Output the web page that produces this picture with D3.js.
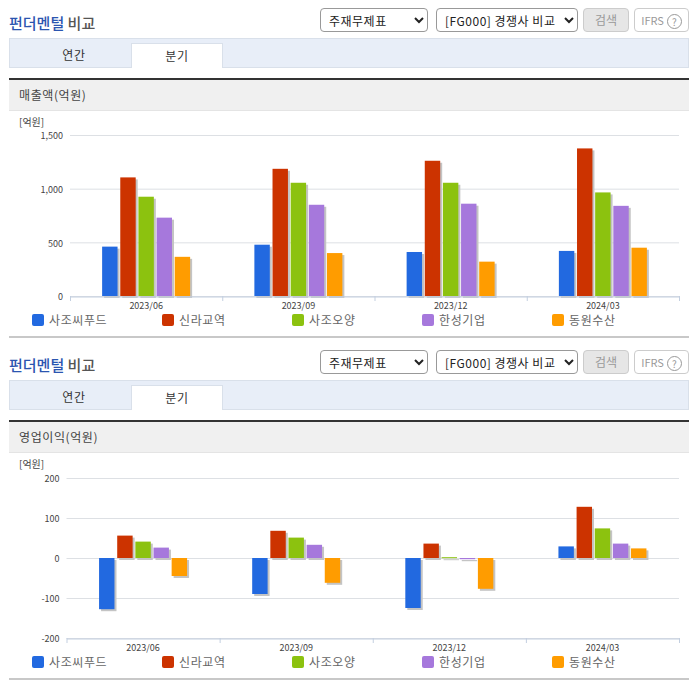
<!DOCTYPE html>
<html>
<head>
<meta charset="utf-8">
<script src="https://cdn.jsdelivr.net/npm/d3@7"></script>
<style>
  html, body { margin: 0; padding: 0; background: #fff; overflow: hidden; }
  body { font-family: "Noto Sans CJK KR", "Noto Sans", sans-serif; }
  #page { position: relative; width: 696px; height: 684px; }
  .panel { position: absolute; left: 0; width: 696px; height: 342px; }
  .panel > * { position: absolute; box-sizing: border-box; }
  .title { left: 9px; top: 12px; font-size: 15px; font-weight: 500; line-height: 22px; color: #555; }
  .title span { color: #2b55b0; }
  select { top: 8px; height: 24px; font: 12px "Noto Sans CJK KR", sans-serif; letter-spacing: .5px; color: #222; background: #fff;
           border: 1px solid #999; border-radius: 4px; padding: 0 0 0 4px; }
  .btn { top: 8px; height: 24px; border-radius: 4px; font-size: 12px; line-height: 22px; text-align: center; color: #999; border: 1px solid #ccc; }
  .help { display: inline-block; width: 13px; height: 13px; margin-left: 3px; border: 1px solid #999; border-radius: 50%;
          font-size: 10px; line-height: 13px; vertical-align: -1px; }
  .tabs { left: 9px; top: 38px; width: 680px; height: 30px; background: #e8eef8; border: 1px solid #d9e0ea; }
  .tab { top: 43px; height: 25px; width: 92px; font-size: 12px; letter-spacing: .6px; line-height: 24px; text-align: center; color: #333; }
  .tab.on { background: #fff; border: 1px solid #d9e0ea; border-bottom: 0; }
  .head { left: 9px; top: 78px; width: 680px; height: 33px; background: #f0f0f0; border-top: 2px solid #333; border-bottom: 1px solid #e4e4e4;
          font-size: 12px; line-height: 30px; padding-left: 10px; color: #444; letter-spacing: .6px; }
  .foot { left: 9px; top: 336px; width: 680px; height: 2px; background: #c8c8c8; }
  svg { left: 0; top: 0; }
  svg text { font-family: "Noto Sans CJK KR", "Noto Sans", sans-serif; }
</style>
</head>
<body>
<div id="page"></div>
<script>
const periods = ["2023/06", "2023/09", "2023/12", "2024/03"];
const companies = ["사조씨푸드", "신라교역", "사조오양", "한성기업", "동원수산"];
const colors = ["#2269e0", "#cc3300", "#8cc20f", "#a678dc", "#ff9c00"];

const salesValues = [
  [460, 1105, 925, 730, 365],
  [478, 1185, 1055, 850, 400],
  [410, 1260, 1055, 860, 320],
  [420, 1375, 965, 840, 450]
];
const profitValues = [
  [-128, 56, 41, 26, -45],
  [-90, 68, 51, 33, -62],
  [-125, 36, 2, -3, -77],
  [29, 128, 74, 36, 24]
];
const salesTicks = [0, 500, 1000, 1500];
const profitTicks = [-200, -100, 0, 100, 200];

const tickFormat = d => d3.format(",")(d).replace("−", "-");

function createPanel(top, label, values, ticks, opts) {
  const panel = d3.select("#page").append("div").attr("class", "panel").style("top", top + "px");

  const title = panel.append("div").attr("class", "title");
  title.append("span").text("펀더멘털");
  title.append("b").style("font-weight", 500).text(" 비교");

  panel.append("select").style("left", "320px").style("width", "108px")
    .append("option").text("주재무제표");
  panel.append("select").style("left", "436px").style("width", "142px")
    .append("option").text("[FG000] 경쟁사 비교");
  panel.append("div").attr("class", "btn").style("left", "583px").style("width", "46px")
    .style("background", "#e6e6e6").text("검색");
  const ifrs = panel.append("div").attr("class", "btn").style("left", "634px").style("width", "55px")
    .style("font-size", "11px").text("IFRS");
  ifrs.append("span").attr("class", "help").text("?");

  panel.append("div").attr("class", "tabs");
  panel.append("div").attr("class", "tab").style("left", "28px").text("연간");
  panel.append("div").attr("class", "tab on").style("left", "131px").text("분기");
  panel.append("div").attr("class", "head").text(label);
  panel.append("div").attr("class", "foot");

  const svg = panel.append("svg").attr("width", 696).attr("height", 342);

  svg.append("text").attr("x", 19).attr("y", 126).attr("font-size", 10).attr("fill", "#444").text("[억원]");

  const x = d3.scaleBand().domain(periods).range([opts.left, 679]);
  const y = d3.scaleLinear().domain(d3.extent(ticks)).range([opts.bottom, opts.top]);
  const inner = d3.scaleBand().domain(companies).range([-44, 44]).paddingInner(0.15);

  // gridlines
  svg.append("g").selectAll("line").data(ticks).join("line")
    .attr("x1", opts.left).attr("x2", 679)
    .attr("y1", d => y(d) + .5).attr("y2", d => y(d) + .5)
    .attr("stroke", "#dde0e4");

  const yAxis = d3.axisLeft(y).tickValues(ticks).tickSize(0).tickPadding(7).tickFormat(tickFormat);
  svg.append("g").attr("transform", `translate(${opts.left},1)`).call(yAxis)
    .call(g => g.select(".domain").remove())
    .call(g => g.selectAll("text").attr("font-size", 9).attr("fill", "#444"));

  // shadow first, then the bars
  const groups = svg.append("g").selectAll("g").data(values).join("g")
    .attr("transform", (d, i) => `translate(${x(periods[i]) + x.bandwidth() / 2},0)`);
  const barTop = v => y(Math.max(v, 0));
  const barH = v => Math.max(Math.abs(y(v) - y(0)), 1);
  groups.selectAll("rect.shadow").data(d => d).join("rect").attr("class", "shadow")
    .attr("x", (d, i) => inner(companies[i]) + 2).attr("y", d => barTop(d) + 2)
    .attr("width", inner.bandwidth()).attr("height", barH)
    .attr("fill", "#c4c4c4");
  groups.selectAll("rect.bar").data(d => d).join("rect").attr("class", "bar")
    .attr("x", (d, i) => inner(companies[i])).attr("y", barTop)
    .attr("width", inner.bandwidth()).attr("height", barH)
    .attr("fill", (d, i) => colors[i]);

  const xAxis = d3.axisBottom(x).tickSize(0).tickPadding(6);
  svg.append("g").attr("transform", `translate(0,${opts.bottom + .5})`).call(xAxis)
    .call(g => g.select(".domain").attr("stroke", "#c3cfe0"))
    .call(g => g.selectAll("text").attr("font-size", 9).attr("fill", "#444"));
  svg.append("g").selectAll("line").data(periods.concat("end")).join("line")
    .attr("x1", (d, i) => opts.left + i * x.bandwidth() + .5)
    .attr("x2", (d, i) => opts.left + i * x.bandwidth() + .5)
    .attr("y1", opts.bottom).attr("y2", opts.bottom + 5)
    .attr("stroke", "#c3cfe0");

  // legend
  const legend = svg.append("g").selectAll("g").data(companies).join("g")
    .attr("transform", (d, i) => `translate(${32 + i * 130},314)`);
  legend.append("rect").attr("width", 12).attr("height", 12).attr("rx", 2)
    .attr("fill", (d, i) => colors[i]);
  legend.append("text").attr("x", 17).attr("y", 10.5).attr("font-size", 12)
    .attr("letter-spacing", .6).attr("fill", "#666").text(d => d);
}

createPanel(0, "매출액(억원)", salesValues, salesTicks, { left: 70, top: 135, bottom: 296 });
createPanel(342, "영업이익(억원)", profitValues, profitTicks, { left: 66.5, top: 136, bottom: 296 });
</script>
</body>
</html>
